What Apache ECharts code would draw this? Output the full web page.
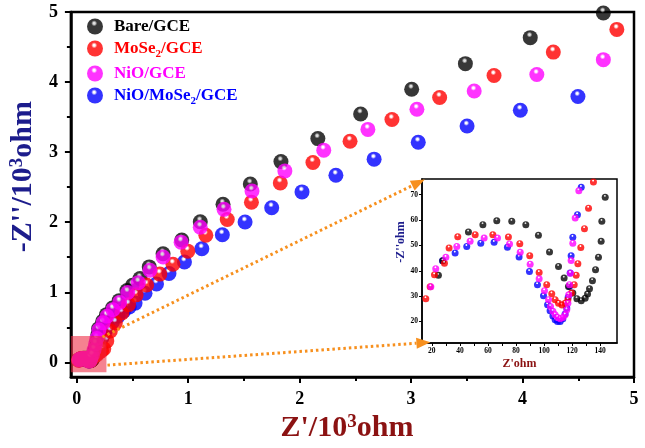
<!DOCTYPE html>
<html><head><meta charset="utf-8">
<script src="https://cdn.jsdelivr.net/npm/echarts@6/dist/echarts.min.js"></script>
<style>html,body{margin:0;padding:0;background:#fff}#c{width:645px;height:448px}</style>
</head><body><div id="c"></div>
<script>
const FONT = "'Liberation Serif','Times New Roman',serif";
const seriesNames = ['Bare/GCE', 'MoSe2/GCE', 'NiO/GCE', 'NiO/MoSe2/GCE'];
const mainTicks = [0, 1, 2, 3, 4, 5];
const mainMinorTicks = [0.5, 1.5, 2.5, 3.5, 4.5];
const insetXTicks = [20, 40, 60, 80, 100, 120, 140];
const insetXTickMarks = [20, 30, 40, 50, 60, 70, 80, 90, 100, 110, 120, 130, 140];
const insetYTicks = [20, 30, 40, 50, 60, 70];

// Inset data (ohm)
const insetBare = [[24.7,38.2],[27.8,43.9],[46.1,55.3],[56.4,58.2],[66.3,59.7],[77,59.5],[87,58.2],[96,54],[103.9,47.4],[110.3,41.7],[114.3,37.1],[117.4,33.8],[120.5,31.2],[123.4,29],[126.5,28.2],[129.3,29.2],[131,30.8],[132.4,32.9],[134.5,36.1],[136.7,40.4],[138.8,45.3],[140.7,51.6],[141.2,59.5],[143.6,69]];
const insetMoSe2 = [[15.7,29],[18.8,33.7],[21.9,38.4],[29,43],[32.3,49],[38.5,53.4],[50.9,54.2],[63.5,54.2],[74.6,53.3],[82.7,50.7],[89.8,45.9],[96.5,39.3],[101.9,34.5],[105.5,30.9],[107.9,28.6],[110.3,27.2],[112.8,26.5],[115,27.2],[117,28.6],[119.5,31.2],[121.5,34.5],[122.9,38.2],[124.1,42.8],[126.2,49.2],[128.8,56.6],[131.7,64.7],[135.2,75]];
const insetNiO = [[19.3,33.7],[22.8,40.8],[30,45.3],[37.8,49.6],[47.3,51.6],[57.3,52.9],[66.8,52.9],[75.4,50.6],[83,47.3],[90.1,42.6],[96.5,36.8],[100.3,32.1],[103.2,28.6],[104.6,25.9],[106.3,24],[107.9,22.6],[109.6,21.6],[111.5,21.1],[113.4,21.6],[115,22.6],[116.2,24.6],[117,27.2],[117.6,30.5],[118.1,34.5],[118.8,39],[119.3,44],[120.5,50.9],[122.2,60.8],[124.8,71.6]];
const insetNiOMoSe2 = [[27.6,43.9],[36.6,47],[44.9,49.6],[54.9,50.9],[64.4,51.2],[73.9,49.3],[82.2,45.4],[89.6,39.7],[95.3,34.5],[99.6,30.1],[102.5,26.6],[104.3,24.2],[106.3,22.2],[107.9,20.7],[109.6,20],[111.5,20],[113.4,21.1],[115,22.9],[116.2,25.3],[117.2,29.5],[118.1,33.8],[118.6,39.1],[119.3,45.9],[120.5,53.2],[123.8,62.1],[126.5,72.9]];

// Main data (10^3 ohm), high-frequency part
const mainBareHigh = [[0.155,0.1],[0.165,0.2],[0.178,0.3],[0.188,0.39],[0.195,0.48],[0.232,0.585],[0.267,0.68],[0.32,0.775],[0.38,0.88],[0.45,1.025],[0.5,1.1],[0.567,1.197],[0.65,1.362],[0.774,1.549],[0.942,1.746],[1.108,2.006],[1.312,2.256],[1.557,2.545],[1.832,2.865],[2.163,3.193],[2.547,3.545],[3.005,3.897],[3.487,4.263],[4.069,4.634],[4.725,4.986]];
const mainMoSe2High = [[0.16,0.09],[0.18,0.11],[0.2,0.14],[0.222,0.165],[0.242,0.193],[0.269,0.306],[0.301,0.446],[0.346,0.563],[0.404,0.704],[0.464,0.823],[0.532,0.963],[0.626,1.104],[0.745,1.259],[0.863,1.4],[0.996,1.587],[1.158,1.813],[1.35,2.038],[1.567,2.285],[1.826,2.559],[2.119,2.851],[2.452,3.155],[2.828,3.465],[3.256,3.78],[3.744,4.094],[4.276,4.428],[4.846,4.752]];
const mainNiOHigh = [[0.14,0.1],[0.155,0.18],[0.168,0.26],[0.18,0.34],[0.198,0.461],[0.236,0.563],[0.271,0.658],[0.324,0.752],[0.384,0.855],[0.457,0.996],[0.552,1.137],[0.656,1.315],[0.774,1.503],[0.936,1.715],[1.108,1.927],[1.321,2.183],[1.572,2.446],[1.867,2.732],[2.216,3.028],[2.612,3.324],[3.052,3.611],[3.566,3.873],[4.128,4.108],[4.725,4.32]];
const mainNiOMoSe2High = [[0.14,0.1],[0.16,0.16],[0.18,0.22],[0.2,0.28],[0.225,0.35],[0.25,0.42],[0.28,0.5],[0.32,0.58],[0.37,0.66],[0.42,0.73],[0.47,0.79],[0.523,0.845],[0.612,0.986],[0.715,1.118],[0.827,1.268],[0.966,1.432],[1.122,1.62],[1.306,1.82],[1.51,2.003],[1.749,2.207],[2.021,2.432],[2.325,2.669],[2.668,2.9],[3.064,3.141],[3.502,3.372],[3.98,3.597],[4.497,3.794]];

// the low-frequency arc (ohm) shown in the main plot in 10^3 ohm units
const toK = arr => arr.map(p => [p[0] / 1000, p[1] / 1000]);

const colors = {
  'Bare/GCE': ['#d8d8d8', '#050505', '#000000'],
  'MoSe2/GCE': ['#ffffff', '#ff0000', '#c80000'],
  'NiO/GCE': ['#ffffff', '#ff00ff', '#c800c8'],
  'NiO/MoSe2/GCE': ['#ffffff', '#0000ff', '#0000b8']
};
function grad(name) {
  const c = colors[name];
  return {type: 'radial', x: 0.45, y: 0.3, r: 0.78, colorStops: [
    {offset: 0, color: c[0]}, {offset: 0.08, color: c[0]}, {offset: 0.24, color: c[1]}, {offset: 0.86, color: c[1]}, {offset: 1, color: c[2]}]};
}
function ser(name, data, ai, size, z) {
  return {type: 'scatter', name: name, data: data, xAxisIndex: ai, yAxisIndex: ai, z: z,
    symbolSize: size, itemStyle: {color: grad(name)}, emphasis: {disabled: true}, animation: false};
}

const drawOrder = [
  ['NiO/MoSe2/GCE', insetNiOMoSe2, mainNiOMoSe2High],
  ['Bare/GCE', insetBare, mainBareHigh],
  ['MoSe2/GCE', insetMoSe2, mainMoSe2High],
  ['NiO/GCE', insetNiO, mainNiOHigh]
];
const series = [];
drawOrder.forEach(d => series.push(ser(d[0], toK(d[1]).concat(d[2]), 0, 15, 2)));
drawOrder.forEach(d => series.push(ser(d[0], d[1], 2, 7, 20)));

const legendColor = {'Bare/GCE': 'k', 'MoSe2/GCE': 'r', 'NiO/GCE': 'm', 'NiO/MoSe2/GCE': 'b'};
const baseRich = {fontFamily: FONT, fontWeight: 'bold', fontSize: 17};
const subRich = {fontFamily: FONT, fontWeight: 'bold', fontSize: 11, verticalAlign: 'bottom', padding: [0, 0, -3, 0]};
const rich = {
  k: Object.assign({color: '#000000'}, baseRich), ks: Object.assign({color: '#000000'}, subRich),
  r: Object.assign({color: '#ff0000'}, baseRich), rs: Object.assign({color: '#ff0000'}, subRich),
  m: Object.assign({color: '#ff00ff'}, baseRich), ms: Object.assign({color: '#ff00ff'}, subRich),
  b: Object.assign({color: '#0000ff'}, baseRich), bs: Object.assign({color: '#0000ff'}, subRich)
};

const axisLabelMain = {fontFamily: FONT, fontWeight: 'bold', fontSize: 18, color: '#000', margin: 13};
const axisLabelInset = {fontFamily: FONT, fontWeight: 'bold', fontSize: 7.5, color: '#000', margin: 4};

const option = {
  backgroundColor: '#fff',
  animation: false,
  grid: [
    {left: 67, top: 12, right: 11, bottom: 66, show: true, borderColor: '#000', borderWidth: 2.5, backgroundColor: 'transparent'},
    {left: 422, top: 179, right: 28, bottom: 105, show: true, borderColor: '#000', borderWidth: 1.5, backgroundColor: '#fff', z: 5}
  ],
  legend: {
    orient: 'vertical', left: 82, top: 13, itemWidth: 28, itemHeight: 16, itemGap: 5,
    icon: 'circle', data: seriesNames, selectedMode: false,
    textStyle: {fontFamily: FONT, fontWeight: 'bold', fontSize: 17, rich: rich},
    formatter: function (name) {
      const c = legendColor[name];
      return '{' + c + '|' + name.replace(/Se2/g, 'Se}{' + c + 's|2}{' + c + '|') + '}';
    }
  },
  xAxis: [
    {type: 'value', gridIndex: 0, min: -0.053, max: 5.0, position: 'bottom',
      axisLine: {onZero: false, lineStyle: {color: '#000', width: 2.5}},
      axisTick: {customValues: mainTicks, length: 6, lineStyle: {color: '#000', width: 2}},
      axisLabel: Object.assign({customValues: mainTicks}, axisLabelMain),
      splitLine: {show: false},
      name: "{a|Z'/10}{s|3}{a|ohm}", nameLocation: 'middle', nameGap: 34,
      nameTextStyle: {padding: [0, 11, 0, 0], rich: {
        a: {fontFamily: FONT, fontWeight: 'bold', fontSize: 30, color: '#8b1212'},
        s: {fontFamily: FONT, fontWeight: 'bold', fontSize: 19, color: '#8b1212', verticalAlign: 'top'}}}},
    {type: 'value', gridIndex: 0, min: -0.053, max: 5.0, position: 'bottom',
      axisLine: {show: false, onZero: false},
      axisTick: {customValues: mainMinorTicks, length: 4, lineStyle: {color: '#000', width: 2}},
      axisLabel: {show: false}, splitLine: {show: false}},
    {type: 'value', gridIndex: 1, min: 13, max: 152, position: 'bottom', z: 20,
      axisLine: {onZero: false, lineStyle: {color: '#000', width: 1.5}},
      axisTick: {customValues: insetXTickMarks, length: 3, lineStyle: {color: '#000', width: 1}},
      axisLabel: Object.assign({customValues: insetXTicks}, axisLabelInset),
      splitLine: {show: false},
      name: "Z'ohm", nameLocation: 'middle', nameGap: 15,
      nameTextStyle: {fontFamily: FONT, fontWeight: 'bold', fontSize: 12, color: '#8b1212'}}
  ],
  yAxis: [
    {type: 'value', gridIndex: 0, min: -0.211, max: 5.0, position: 'left',
      axisLine: {onZero: false, lineStyle: {color: '#000', width: 2.5}},
      axisTick: {customValues: mainTicks, length: 6, lineStyle: {color: '#000', width: 2}},
      axisLabel: Object.assign({customValues: mainTicks}, axisLabelMain),
      splitLine: {show: false},
      name: "{a|-Z''/10}{s|3}{a|ohm}", nameLocation: 'middle', nameGap: 30,
      nameTextStyle: {padding: [0, 0, 0, 36], rich: {
        a: {fontFamily: FONT, fontWeight: 'bold', fontSize: 30, color: '#1c1c8c'},
        s: {fontFamily: FONT, fontWeight: 'bold', fontSize: 19, color: '#1c1c8c', verticalAlign: 'top'}}}},
    {type: 'value', gridIndex: 0, min: -0.211, max: 5.0, position: 'left',
      axisLine: {show: false, onZero: false},
      axisTick: {customValues: mainMinorTicks, length: 4, lineStyle: {color: '#000', width: 2}},
      axisLabel: {show: false}, splitLine: {show: false}},
    {type: 'value', gridIndex: 1, min: 11.5, max: 76.2, position: 'left', z: 20,
      axisLine: {onZero: false, lineStyle: {color: '#000', width: 1.5}},
      axisTick: {customValues: insetYTicks, length: 3, lineStyle: {color: '#000', width: 1}},
      axisLabel: Object.assign({customValues: insetYTicks}, axisLabelInset),
      splitLine: {show: false},
      name: "-Z''ohm", nameLocation: 'middle', nameGap: 11,
      nameTextStyle: {fontFamily: FONT, fontWeight: 'bold', fontSize: 12, color: '#1c1c8c', padding: [0, 0, 0, 38]}}
  ],
  series: series
};

const chart = echarts.init(document.getElementById('c'), null, {renderer: 'canvas'});
chart.setOption(option);

// annotation: zoom box and dotted arrows linking it to the inset
const boxA = chart.convertToPixel({xAxisIndex: 0, yAxisIndex: 0}, [-0.053, 0.376]);
const boxB = chart.convertToPixel({xAxisIndex: 0, yAxisIndex: 0}, [0.266, -0.14]);
const inTop = chart.convertToPixel({xAxisIndex: 2, yAxisIndex: 2}, [15, 76.0]);
const inBot = chart.convertToPixel({xAxisIndex: 2, yAxisIndex: 2}, [19, 11.8]);
const ORANGE = '#f7901e';
function arrow(s, t) {
  const dx = t[0] - s[0], dy = t[1] - s[1], len = Math.hypot(dx, dy);
  const ux = dx / len, uy = dy / len, L = 14, W = 5.5;
  const bx = t[0] - ux * L, by = t[1] - uy * L;
  return [
    {type: 'line', z: 100, shape: {x1: s[0], y1: s[1], x2: bx, y2: by},
      style: {stroke: ORANGE, lineWidth: 3, lineDash: [2.5, 3]}},
    {type: 'polygon', z: 100, shape: {points: [t, [bx - uy * W, by + ux * W], [bx + uy * W, by - ux * W]]},
      style: {fill: ORANGE}}
  ];
}
const g = [{type: 'rect', z: 90, shape: {x: boxA[0], y: boxA[1], width: boxB[0] - boxA[0], height: boxB[1] - boxA[1]},
  style: {fill: 'rgba(238,40,64,0.58)'}}];
chart.setOption({graphic: g.concat(arrow([boxB[0] - 4, boxA[1] + 1], inTop), arrow([boxB[0] + 1, boxB[1] - 7], inBot))});
</script></body></html>
